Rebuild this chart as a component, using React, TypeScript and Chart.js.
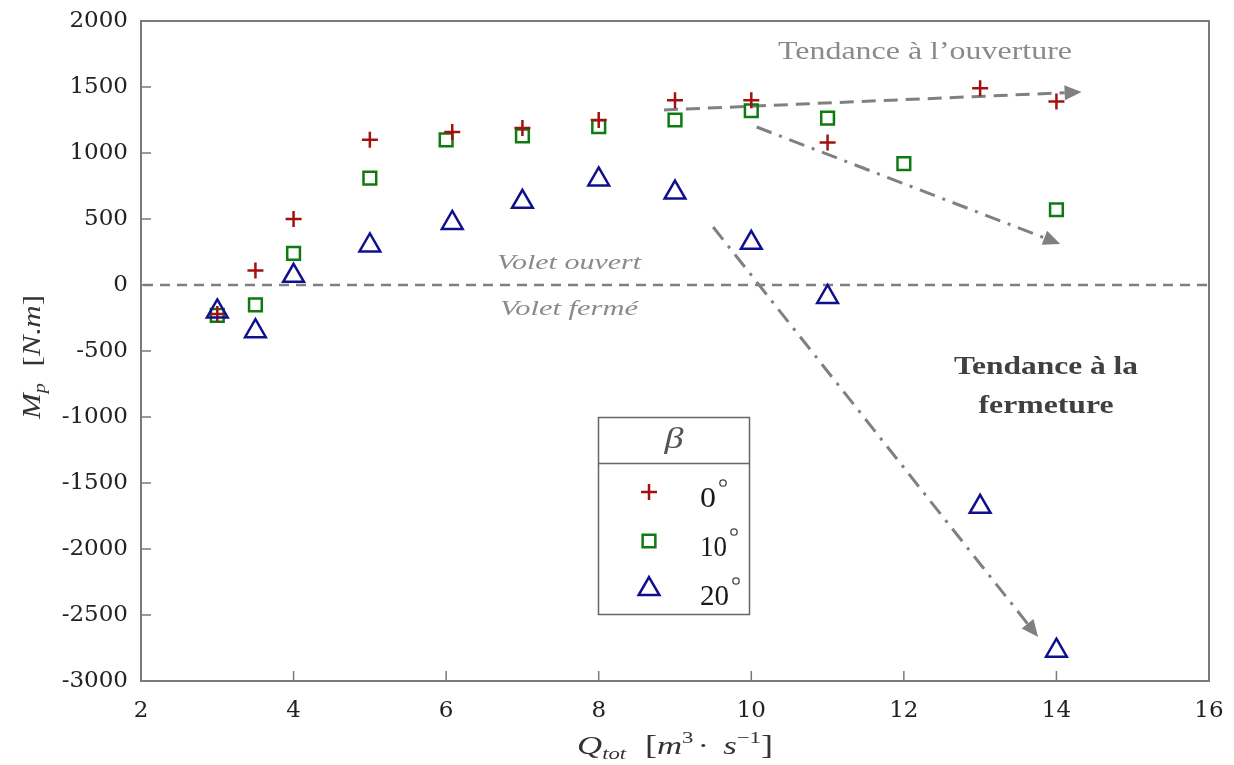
import React, { useEffect, useRef } from 'react';
import { Chart, registerables } from 'chart.js';
import { drawPoint } from 'chart.js/helpers';

Chart.register(...registerables);

// ---- data ----
const seriesLabels = ['0', '10', '20'];
const q0 = [3, 3.5, 4, 5, 6.08, 7, 8, 9, 10, 11, 13, 14];
const m0 = [-220, 110, 500, 1100, 1160, 1190, 1250, 1400, 1400, 1080, 1490, 1390];
const q10 = [3, 3.5, 4, 5, 6, 7, 8, 9, 10, 11, 12, 14];
const m10 = [-230, -150, 240, 810, 1100, 1130, 1200, 1250, 1320, 1265, 920, 570];
const q20 = [3, 3.5, 4, 5, 6.08, 7, 8, 9, 10, 11, 13, 14];
const m20 = [-200, -350, 70, 300, 470, 630, 800, 700, 320, -90, -1680, -2770];

const xMin = 2, xMax = 16, xStep = 2;
const yMin = -3000, yMax = 2000, yStep = 500;

// trend arrows (data coordinates: [Q, M])
const trendOpen = [[8.855, 1326], [14.33, 1462]];
const trendMid = [[10.07, 1197], [14.05, 311]];
const trendClose = [[9.5, 439], [13.76, -2667]];

const RED = '#a31212';
const GREEN = '#0f7a0f';
const BLUE = '#10108f';
const GREY = '#808080';
const AXIS = '#7a7a7a';
const SERIF = '"Liberation Serif", "Times New Roman", serif';

const pts = (xs: number[], ys: number[]) => xs.map((x, i) => ({ x, y: ys[i] }));

function fitText(ctx: CanvasRenderingContext2D, s: string, cx: number, cy: number, font: string, color: string, width: number) {
  ctx.save();
  ctx.font = font;
  ctx.fillStyle = color;
  ctx.textBaseline = 'middle';
  ctx.textAlign = 'left';
  const w = ctx.measureText(s).width;
  const sx = width / w;
  ctx.translate(cx - width / 2, cy);
  ctx.scale(sx, 1);
  ctx.fillText(s, 0, 0);
  ctx.restore();
}

type Run = { t: string; font: string; dy?: number; gap?: number };
function richText(ctx: CanvasRenderingContext2D, runs: Run[], cx: number, cy: number, width: number, color: string, rotate = false) {
  ctx.save();
  ctx.fillStyle = color;
  ctx.textBaseline = 'alphabetic';
  ctx.textAlign = 'left';
  let total = 0;
  for (const r of runs) { ctx.font = r.font; total += ctx.measureText(r.t).width + (r.gap || 0); }
  const sx = width / total;
  ctx.translate(cx, cy);
  if (rotate) ctx.rotate(-Math.PI / 2);
  ctx.scale(sx, 1);
  let x = -total / 2;
  for (const r of runs) {
    ctx.font = r.font;
    ctx.fillText(r.t, x, r.dy || 0);
    x += ctx.measureText(r.t).width + (r.gap || 0);
  }
  ctx.restore();
}

function arrow(ctx: CanvasRenderingContext2D, x1: number, y1: number, x2: number, y2: number, dash: number[]) {
  const headLen = 17, headW = 7.5;
  const a = Math.atan2(y2 - y1, x2 - x1);
  const bx = x2 - headLen * Math.cos(a), by = y2 - headLen * Math.sin(a);
  ctx.save();
  ctx.strokeStyle = GREY;
  ctx.lineWidth = 3;
  ctx.setLineDash(dash);
  ctx.beginPath();
  ctx.moveTo(x1, y1);
  ctx.lineTo(bx, by);
  ctx.stroke();
  ctx.setLineDash([]);
  ctx.fillStyle = GREY;
  ctx.beginPath();
  ctx.moveTo(x2, y2);
  ctx.lineTo(bx + headW * Math.sin(a), by - headW * Math.cos(a));
  ctx.lineTo(bx - headW * Math.sin(a), by + headW * Math.cos(a));
  ctx.closePath();
  ctx.fill();
  ctx.restore();
}

const overlay = {
  id: 'overlay',
  beforeDatasetsDraw(chart: any) {
    const ctx: CanvasRenderingContext2D = chart.ctx;
    const xs = chart.scales.x, ys = chart.scales.y;
    const ca = chart.chartArea;
    // zero line
    ctx.save();
    ctx.strokeStyle = GREY;
    ctx.lineWidth = 2.5;
    ctx.setLineDash([10, 7]);
    ctx.beginPath();
    const y0 = ys.getPixelForValue(0);
    ctx.moveTo(ca.left + 2, y0);
    ctx.lineTo(ca.right, y0);
    ctx.stroke();
    ctx.restore();
    const P = (p: number[]) => [xs.getPixelForValue(p[0]), ys.getPixelForValue(p[1])];
    const [a1, b1] = [P(trendOpen[0]), P(trendOpen[1])];
    arrow(ctx, a1[0], a1[1], b1[0], b1[1], [14, 8]);
    const [a2, b2] = [P(trendMid[0]), P(trendMid[1])];
    arrow(ctx, a2[0], a2[1], b2[0], b2[1], [16, 8, 3, 8]);
    const [a3, b3] = [P(trendClose[0]), P(trendClose[1])];
    arrow(ctx, a3[0], a3[1], b3[0], b3[1], [16, 8, 3, 8]);
  },
  afterDraw(chart: any) {
    const ctx: CanvasRenderingContext2D = chart.ctx;
    const xs = chart.scales.x, ys = chart.scales.y;
    const ca = chart.chartArea;
    // frame
    ctx.save();
    ctx.strokeStyle = AXIS;
    ctx.lineWidth = 2;
    ctx.strokeRect(ca.left, ca.top, ca.right - ca.left, ca.bottom - ca.top);
    ctx.lineWidth = 1.5;
    ctx.beginPath();
    for (let v = xMin + xStep; v < xMax; v += xStep) {
      const px = xs.getPixelForValue(v);
      ctx.moveTo(px, ca.bottom);
      ctx.lineTo(px, ca.bottom - 10);
    }
    for (let v = yMin + yStep; v < yMax; v += yStep) {
      const py = ys.getPixelForValue(v);
      ctx.moveTo(ca.left, py);
      ctx.lineTo(ca.left + 10, py);
    }
    ctx.stroke();
    ctx.restore();

    // axis titles
    const it = (s: number) => `italic ${s}px ${SERIF}`;
    const up = (s: number) => `${s}px ${SERIF}`;
    richText(ctx, [
      { t: 'Q', font: it(26) },
      { t: 'tot', font: it(17), dy: 5, gap: 14 },
      { t: '[', font: up(27) },
      { t: 'm', font: it(26) },
      { t: '3', font: up(17), dy: -11, gap: 3 },
      { t: '·', font: up(26), gap: 4 },
      { t: ' s', font: it(26) },
      { t: '−1', font: up(17), dy: -11 },
      { t: ']', font: up(27) },
    ], 675, 754, 196, '#333');
    richText(ctx, [
      { t: 'M', font: it(26) },
      { t: 'p', font: it(17), dy: 5, gap: 14 },
      { t: '[', font: up(26) },
      { t: 'N', font: it(26) },
      { t: '.', font: up(26) },
      { t: 'm', font: it(26) },
      { t: ']', font: up(26) },
    ], 40, 357, 124, '#333', true);

    // annotations
    fitText(ctx, 'Tendance à l’ouverture', 925, 52, `26px ${SERIF}`, '#8a8a8a', 294);
    fitText(ctx, 'Volet ouvert', 569, 263, it(22), '#8a8a8a', 144);
    fitText(ctx, 'Volet fermé', 569, 309, it(22), '#8a8a8a', 138);
    fitText(ctx, 'Tendance à la', 1046, 368, `bold 25px ${SERIF}`, '#404040', 184);
    fitText(ctx, 'fermeture', 1046, 407, `bold 25px ${SERIF}`, '#404040', 135);

    // legend
    ctx.save();
    ctx.strokeStyle = '#666';
    ctx.lineWidth = 1.5;
    ctx.strokeRect(598.5, 417.5, 151, 197);
    ctx.beginPath();
    ctx.moveTo(598.5, 463.5);
    ctx.lineTo(749.5, 463.5);
    ctx.stroke();
    ctx.restore();
    fitText(ctx, 'β', 674, 440, it(30), '#555', 19);
    const ly = [492, 541, 589];
    const lty = [499, 548, 597];
    const lw = [16, 27, 29];
    chart.data.datasets.forEach((ds: any, i: number) => {
      ctx.save();
      ctx.strokeStyle = ds.pointBorderColor;
      ctx.fillStyle = 'rgba(0,0,0,0)';
      ctx.lineWidth = ds.pointBorderWidth;
      drawPoint(ctx, { pointStyle: ds.pointStyle, radius: ds.pointRadius, rotation: 0, borderWidth: ds.pointBorderWidth } as any, 649, ly[i]);
      ctx.restore();
      const label = seriesLabels[i];
      const w = lw[i];
      ctx.save();
      ctx.font = `29px ${SERIF}`;
      ctx.fillStyle = '#1a1a1a';
      ctx.textBaseline = 'middle';
      const mw = ctx.measureText(label).width;
      ctx.translate(700, lty[i]);
      ctx.scale(w / mw, 1);
      ctx.fillText(label, 0, 0);
      ctx.restore();
      ctx.save();
      ctx.strokeStyle = '#444';
      ctx.lineWidth = 1.3;
      ctx.beginPath();
      ctx.arc(700 + w + 7, lty[i] - 16, 3.2, 0, Math.PI * 2);
      ctx.stroke();
      ctx.restore();
    });
  },
};

const noOverflow = (s: any) => {
  s.paddingTop = 0;
  s.paddingBottom = 0;
  s.paddingLeft = 0;
  s.paddingRight = 0;
};

export default function App() {
  const ref = useRef<HTMLCanvasElement>(null);
  useEffect(() => {
    if (!ref.current) return;
    const tickFont = { family: '"DejaVu Serif", serif', size: 23 };
    const chart = new Chart(ref.current, {
      type: 'scatter',
      data: {
        datasets: [
          {
            label: seriesLabels[0] + '°',
            data: pts(q0, m0),
            pointStyle: 'cross',
            pointRadius: 8,
            pointBorderWidth: 2.5,
            pointBorderColor: RED,
            pointBackgroundColor: 'rgba(0,0,0,0)',
            order: 1,
          },
          {
            label: seriesLabels[1] + '°',
            data: pts(q10, m10),
            pointStyle: 'rect',
            pointRadius: 9,
            pointBorderWidth: 2.5,
            pointBorderColor: GREEN,
            pointBackgroundColor: 'rgba(0,0,0,0)',
            order: 2,
          },
          {
            label: seriesLabels[2] + '°',
            data: pts(q20, m20),
            pointStyle: 'triangle',
            pointRadius: 12,
            pointBorderWidth: 2.5,
            pointBorderColor: BLUE,
            pointBackgroundColor: 'rgba(0,0,0,0)',
            order: 0,
          },
        ] as any,
      },
      options: {
        animation: false,
        responsive: false,
        events: [],
        layout: { padding: { left: 0, top: 21, right: 25, bottom: 0 } },
        plugins: { legend: { display: false }, tooltip: { enabled: false } },
        scales: {
          x: {
            type: 'linear',
            min: xMin,
            max: xMax,
            ticks: { stepSize: xStep, font: tickFont, color: '#222', padding: 16, maxRotation: 0, callback: (v: any) => String(v) },
            grid: { display: false, drawTicks: false },
            border: { display: false },
            afterFit: (s: any) => { s.height = 84; noOverflow(s); },
          },
          y: {
            type: 'linear',
            min: yMin,
            max: yMax,
            ticks: { stepSize: yStep, font: tickFont, color: '#222', padding: 13, callback: (v: any) => String(v) },
            grid: { display: false, drawTicks: false },
            border: { display: false },
            afterFit: (s: any) => { s.width = 141; noOverflow(s); },
          },
        },
      } as any,
      plugins: [overlay],
    });
    return () => chart.destroy();
  }, []);
  return (
    <div style={{ position: 'absolute', left: 0, top: 0, width: 1234, height: 765, background: '#fff' }}>
      <canvas ref={ref} width={1234} height={765} style={{ display: 'block' }} />
    </div>
  );
}
